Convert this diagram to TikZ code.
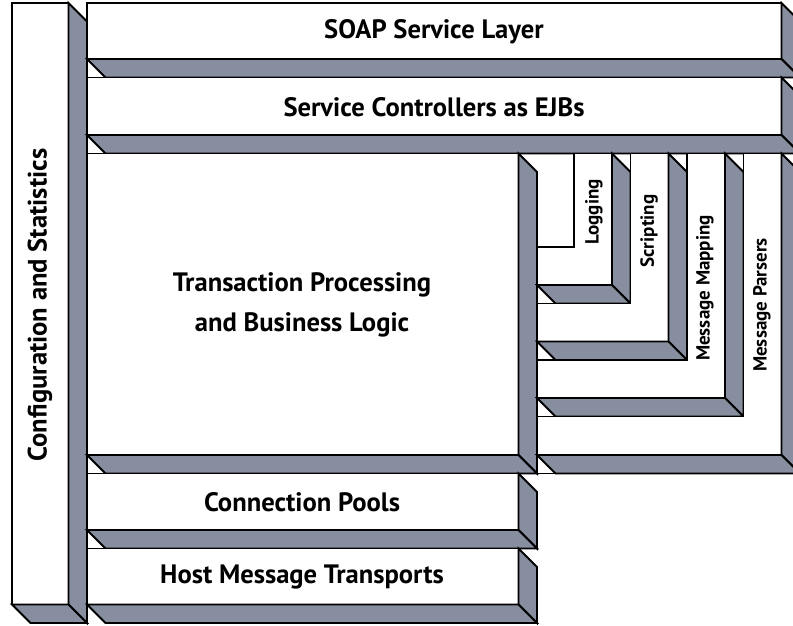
\documentclass[tikz,border=0pt]{standalone}
\usepackage{fontspec}
\setmainfont{PT Sans}
\definecolor{sidegray}{HTML}{868E9F}
\begin{document}
\begin{tikzpicture}[x=1pt,y=-1pt,line join=miter,
  edge/.style={draw=black,line width=1.8pt},
  front/.style={edge,fill=white},
  side/.style={edge,fill=sidegray},
  bigtxt/.style={font=\bfseries\fontsize{26.6}{40}\selectfont,inner sep=0pt,align=center},
  smalltxt/.style={font=\bfseries\fontsize{19}{22}\selectfont,inner sep=0pt,rotate=90}]
\useasboundingbox (0,0) rectangle (793,625);
\clip (0,0) rectangle (793,625);
\def\dd{18.5}
% box: x1,y1,x2,y2
\newcommand\slabbox[4]{%
  \path[front] (#1,#2) rectangle (#3,#4);
  \path[side] (#3,#2) -- (#3+\dd,#2+\dd) -- (#3+\dd,#4+\dd) -- (#3,#4) -- cycle;
  \path[side] (#1,#4) -- (#3,#4) -- (#3+\dd,#4+\dd) -- (#1+\dd,#4+\dd) -- cycle;
}
% L shape: a,b (vertical arm x), c,e (horizontal arm y)
\newcommand\lbox[4]{%
  \path[front] (#1,153.5) -- (#2,153.5) -- (#2,#4) -- (537,#4) -- (537,#3) -- (#1,#3) -- cycle;
  \path[side] (#2,153.5) -- (#2+\dd,153.5+\dd) -- (#2+\dd,#4+\dd) -- (#2,#4) -- cycle;
  \path[side] (537,#4) -- (#2,#4) -- (#2+\dd,#4+\dd) -- (537+\dd,#4+\dd) -- cycle;
}
% left column
\slabbox{12}{3}{68.5}{604.5}
% horizontal layers
\slabbox{87}{3}{781.5}{59}
\slabbox{87}{77.5}{781.5}{135}
\slabbox{87}{153.5}{518.5}{455}
\slabbox{87}{473.5}{518.5}{530}
\slabbox{87}{548.5}{518.5}{604.5}
% L-shaped components
\lbox{574}{612}{247}{285}
\lbox{630.5}{668.5}{303.5}{341.5}
\lbox{687}{725}{360}{398}
\lbox{743.5}{781.5}{416.5}{455}
\draw[edge] (537,473.5) -- (555.5,473.5);
% texts
\node[bigtxt,rotate=90] (cfg) at (40,305) {Configuration and Statistics};
\node[bigtxt] (soap) at (434,32) {SOAP Service Layer};
\node[bigtxt] (sc) at (434,107) {Service Controllers as EJBs};
\node[bigtxt] (tp) at (302,305) {Transaction Processing\\and Business Logic};
\node[bigtxt] (cp) at (302,502) {Connection Pools};
\node[bigtxt] (hmt) at (302,577) {Host Message Transports};
\node[smalltxt] (log) at (594,212) {Logging};
\node[smalltxt] (scr) at (649,231) {Scripting};
\node[smalltxt] (map) at (705,288) {Message Mapping};
\node[smalltxt] (par) at (762,305) {Message Parsers};
\end{tikzpicture}
\end{document}
